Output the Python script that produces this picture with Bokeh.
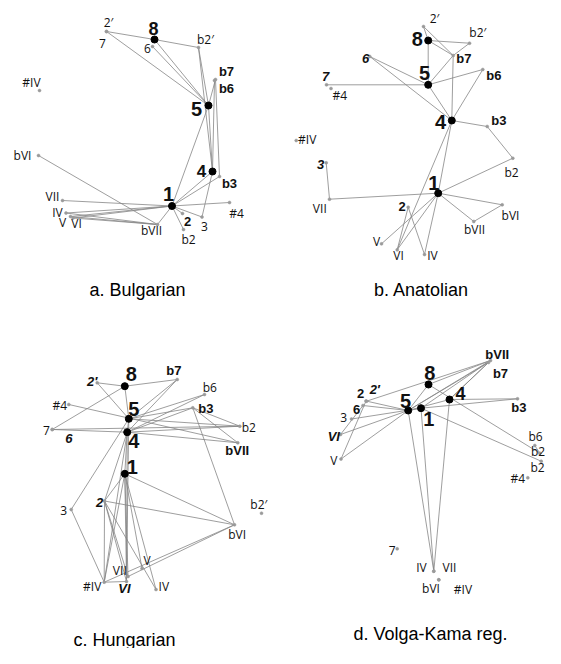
from bokeh.plotting import figure
from bokeh.models import Range1d, ColumnDataSource
from bokeh.core.properties import value
from bokeh.embed import file_html
from bokeh.resources import INLINE

# ---------------- data: node positions (panel units) and links ----------------
# a. Bulgarian
BUL_NAMES = ["8", "2′", "7", "6", "b2′", "b7", "b6", "5", "#IV", "bVI", "4", "b3", "1",
             "#4", "3", "2", "b2", "bVII", "VII", "IV", "V", "VI"]
BUL_X = [154, 106, 106, 152, 198, 215, 214, 208, 39, 38, 212, 219, 171.5,
         229, 201.5, 182, 183, 157, 62, 65.5, 70, 72.5]
BUL_Y = [39, 31, 31, 46, 47, 79, 80, 105, 90, 155, 171, 176, 205.5,
         202, 216.5, 213, 229, 224, 200, 212.5, 216, 217.5]
BUL_EDGES = [("2′", "8"), ("8", "b2′"), ("2′", "5"), ("8", "5"), ("6", "5"), ("b2′", "5"),
             ("b2′", "4"), ("b7", "5"), ("b7", "b3"), ("b6", "4"), ("5", "4"), ("5", "1"),
             ("4", "1"), ("b3", "1"), ("4", "3"), ("1", "3"), ("1", "#4"), ("1", "2"),
             ("1", "b2"), ("1", "bVII"), ("1", "VII"), ("1", "IV"), ("1", "V"), ("1", "VI"),
             ("bVI", "bVII"), ("bVII", "V"), ("bVII", "VI"), ("bVII", "IV")]

# b. Anatolian
ANA_NAMES = ["2′", "8", "b2′", "b7", "6", "b6", "5", "7", "#4", "4", "b3", "#IV", "3",
             "b2", "1", "VII", "2", "bVI", "bVII", "V", "VI", "IV"]
ANA_X = [143, 147.7, 189, 172.7, 89.3, 202.3, 147.7, 46, 50.5, 171.3, 206.7, 15.7, 45.7,
         232.3, 157.7, 49, 127.7, 221.7, 193.3, 101, 116.7, 144]
ANA_Y = [26, 40, 42.7, 55, 56, 69, 84.3, 84.3, 88, 120, 126, 140, 162.3,
         157.7, 192.7, 198.7, 206.7, 204.3, 221, 243.3, 249.3, 254]
ANA_EDGES = [("2′", "8"), ("2′", "b7"), ("8", "b2′"), ("b2′", "b7"), ("8", "b7"), ("8", "5"),
             ("b7", "5"), ("b7", "4"), ("6", "5"), ("6", "4"), ("7", "5"), ("5", "b6"),
             ("b6", "4"), ("5", "4"), ("4", "b3"), ("b3", "b2"), ("b2", "1"), ("4", "1"),
             ("4", "VI"), ("1", "IV"), ("1", "VII"), ("VII", "3"), ("1", "bVI"), ("1", "bVII"),
             ("bVII", "bVI"), ("1", "V"), ("1", "VI"), ("2", "VI"), ("2", "IV")]

# c. Hungarian
HUN_NAMES = ["8", "2′", "b7", "b6", "#4", "b3", "5", "7", "6", "b2", "4", "bVII", "1",
             "3", "2", "b2′", "bVI", "V", "VII", "#IV", "VI", "IV"]
HUN_X = [124.3, 96.7, 176.7, 204, 68.3, 192.3, 128.3, 51.7, 51.7, 239.3, 126.7, 237.3, 124.3,
         70.7, 104, 261, 234, 141.5, 127.5, 103.7, 126, 155.5]
HUN_Y = [55.7, 52.3, 49, 64, 74, 77.3, 88.3, 99, 99, 95.7, 101.7, 112.3, 143.3,
         179, 170.5, 182.7, 194.3, 238, 246, 251.7, 251, 259]
HUN_EDGES = [("2′", "8"), ("2′", "5"), ("8", "b7"), ("8", "5"), ("7", "8"), ("b7", "5"),
             ("b7", "4"), ("#4", "bVII"), ("6", "b2"), ("7", "4"), ("b6", "5"), ("b6", "4"),
             ("b3", "5"), ("b3", "4"), ("b3", "b2"), ("b3", "bVII"), ("b3", "bVI"), ("5", "b2"),
             ("4", "b2"), ("4", "bVII"), ("5", "4"), ("4", "1"), ("3", "5"), ("3", "#IV"),
             ("1", "2"), ("1", "bVI"), ("2", "bVI"), ("1", "VII"), ("1", "VI"), ("1", "V"),
             ("1", "IV"), ("1", "#IV"), ("4", "#IV"), ("4", "VI"), ("4", "2"), ("5", "VI"),
             ("2", "#IV"), ("2", "VI"), ("2", "VII"), ("2", "IV"), ("#IV", "bVI"),
             ("#IV", "VI"), ("VII", "bVI")]

# d. Volga-Kama region
VOL_NAMES = ["bVII", "b7", "8", "4", "b3", "2′", "2", "6", "5", "1", "3", "VI", "V",
             "b6", "b2", "b2_", "#4", "7", "IV", "VII", "bVI", "#IV"]
VOL_X = [210, 208, 148, 169, 237, 86, 85.5, 82.5, 127.7, 140.5, 71, 60, 60.5,
         254.3, 259.3, 260.7, 247.3, 116.7, 153.3, 153.3, 158.3, 158.3]
VOL_Y = [30, 32, 54, 69, 68.3, 70.7, 70.5, 75, 80, 77.7, 88.5, 104, 128.5,
         115, 122.7, 130.7, 147.3, 218.3, 240.7, 240.7, 249.3, 249.3]
VOL_EDGES = [("bVII", "8"), ("bVII", "4"), ("bVII", "5"), ("bVII", "1"), ("bVII", "2′"),
             ("b7", "4"), ("b7", "5"), ("8", "5"), ("8", "b2"), ("b6", "b2"), ("1", "b2_"),
             ("4", "b3"), ("1", "b3"), ("5", "4"), ("5", "1"), ("2", "5"), ("6", "5"),
             ("3", "1"), ("VI", "5"), ("V", "5"), ("6", "VI"), ("2", "V"),
             ("5", "IV"), ("1", "IV"), ("4", "IV")]

TITLES = ["a. Bulgarian", "b. Anatolian", "c. Hungarian", "d. Volga-Kama reg."]
MAJOR = {"1", "4", "5", "8"}

# ---------------- layout / style (not data) ----------------
PANEL_ORIGIN = [(0, 0), (280, 0), (0, 330), (280, 330)]
TITLE_POS = [(137, 289), (141, 289), (124, 309), (150, 303)]

LABEL_POS = [
    {"8": (153, 28), "2′": (108, 22), "7": (102, 43), "6": (147, 48), "b2′": (205, 39),
     "b7": (226, 71), "b6": (226, 88), "5": (196, 108), "#IV": (31, 82), "bVI": (22, 155),
     "4": (201, 170), "b3": (229, 183), "1": (168, 193), "#4": (236, 213), "3": (204, 226),
     "2": (187, 221), "b2": (188, 239), "bVII": (151, 230), "VII": (52, 196), "IV": (57, 212),
     "V": (62, 222), "VI": (76, 223)},
    {"2′": (154, 18.3), "8": (136.7, 38.3), "b2′": (197.3, 32.3), "b7": (183.3, 58.3),
     "6": (85, 58.3), "b6": (213.3, 75), "5": (144, 72.7), "7": (45, 76), "#4": (59.3, 95),
     "4": (160, 121.7), "b3": (218.3, 120), "#IV": (26.7, 139.3), "3": (40, 164.3),
     "b2": (231, 171.7), "1": (153.3, 182.7), "VII": (39.3, 208.3), "2": (121.7, 206),
     "bVI": (230, 215), "bVII": (194, 229.3), "V": (96, 241), "VI": (118, 255), "IV": (152, 255)},
    {"8": (130.7, 43.3), "2′": (91.7, 50.7), "b7": (173.3, 40), "b6": (209.3, 56.7),
     "#4": (59.3, 75), "b3": (205.3, 78.3), "5": (133.3, 78.3), "7": (46, 100), "6": (68.3, 108.3),
     "b2": (248.3, 96.7), "4": (133.3, 110), "bVII": (236.7, 120), "1": (131.7, 136.7),
     "3": (63.3, 180), "2": (99, 171.7), "b2′": (258.3, 174), "bVI": (236.7, 204),
     "V": (146.7, 230), "VII": (119.3, 240), "#IV": (91.7, 255.7), "VI": (124, 258.3),
     "IV": (163.3, 255.7)},
    {"bVII": (216.7, 24), "b7": (220, 42.7), "8": (149.3, 42.7), "4": (180, 63.3),
     "b3": (238.3, 76.7), "2′": (94.3, 59), "2": (80, 63.3), "6": (76, 79), "5": (125, 70),
     "1": (148.3, 88.3), "3": (63.3, 87.3), "VI": (53.3, 106), "V": (53.3, 130),
     "b6": (255, 106), "b2": (257.5, 121), "b2_": (257, 137), "#4": (237.3, 148.3),
     "7": (111.7, 220), "IV": (141, 237.3), "VII": (169, 237.3), "bVI": (150.5, 258.3),
     "#IV": (182.5, 259.3)},
]
BOLD = [{"b7", "b6", "b3", "2"}, {"b7", "b6", "b3", "2"}, {"b7", "b3", "bVII"},
        {"bVII", "b7", "b3", "2", "6"}]
BOLD_ITALIC = [set(), {"6", "7", "3"}, {"2′", "6", "2", "VI"}, {"2′", "VI"}]
MAJOR_SIZE = [{"8": "18px", "4": "17px"}, {}, {}, {"4": "18px"}]

EDGE_COLOR = "#858585"
PANELS = [(BUL_NAMES, BUL_X, BUL_Y, BUL_EDGES), (ANA_NAMES, ANA_X, ANA_Y, ANA_EDGES),
          (HUN_NAMES, HUN_X, HUN_Y, HUN_EDGES), (VOL_NAMES, VOL_X, VOL_Y, VOL_EDGES)]

p = figure(width=545, height=648, x_range=Range1d(0, 545), y_range=Range1d(648, 0),
           x_axis_location=None, y_axis_location=None, toolbar_location=None,
           output_backend="svg", min_border=0, outline_line_color=None,
           background_fill_color="white", border_fill_color="white")
p.grid.visible = False

for i, (names, xs, ys, edges) in enumerate(PANELS):
    ox, oy = PANEL_ORIGIN[i]
    pos = {n: (x + ox, y + oy) for n, x, y in zip(names, xs, ys)}
    # links
    p.multi_line(xs=[[pos[a][0], pos[b][0]] for a, b in edges],
                 ys=[[pos[a][1], pos[b][1]] for a, b in edges],
                 line_color=EDGE_COLOR, line_width=0.8)
    # minor nodes
    minor = [n for n in names if n not in MAJOR]
    p.scatter(x=[pos[n][0] for n in minor], y=[pos[n][1] for n in minor], size=3,
              fill_color="#9a9a9a", line_color="#9a9a9a", line_width=0.5)
    major = [n for n in names if n in MAJOR]
    p.scatter(x=[pos[n][0] for n in major], y=[pos[n][1] for n in major], size=7,
              fill_color="black", line_color="black")
    # labels grouped by style
    groups = {}
    for n in names:
        lx, ly = LABEL_POS[i][n]
        if n in MAJOR:
            key = ("Liberation Sans", MAJOR_SIZE[i].get(n, "20px"), "bold")
        elif n in BOLD_ITALIC[i]:
            key = ("Liberation Sans", "13px", "bold italic")
        elif n in BOLD[i]:
            key = ("Liberation Sans", "13px", "bold")
        else:
            key = ("Open Sans", "12px", "normal")
        g = groups.setdefault(key, {"x": [], "y": [], "t": []})
        g["x"].append(lx + ox)
        g["y"].append(ly + oy)
        g["t"].append(n.rstrip("_"))
    for (font, size, style), g in groups.items():
        p.text(x="x", y="y", text="t", source=ColumnDataSource(g),
               text_font=value(font), text_font_size=size, text_font_style=style,
               text_align="center", text_baseline="middle", text_color="#111111")
    # panel title
    tx, ty = TITLE_POS[i]
    p.text(x=[tx + ox], y=[ty + oy], text=[TITLES[i]], text_font=value("Liberation Sans"),
           text_font_size="18px", text_align="center", text_baseline="middle",
           text_color="black")

open("out.html", "w").write(file_html(p, INLINE))
